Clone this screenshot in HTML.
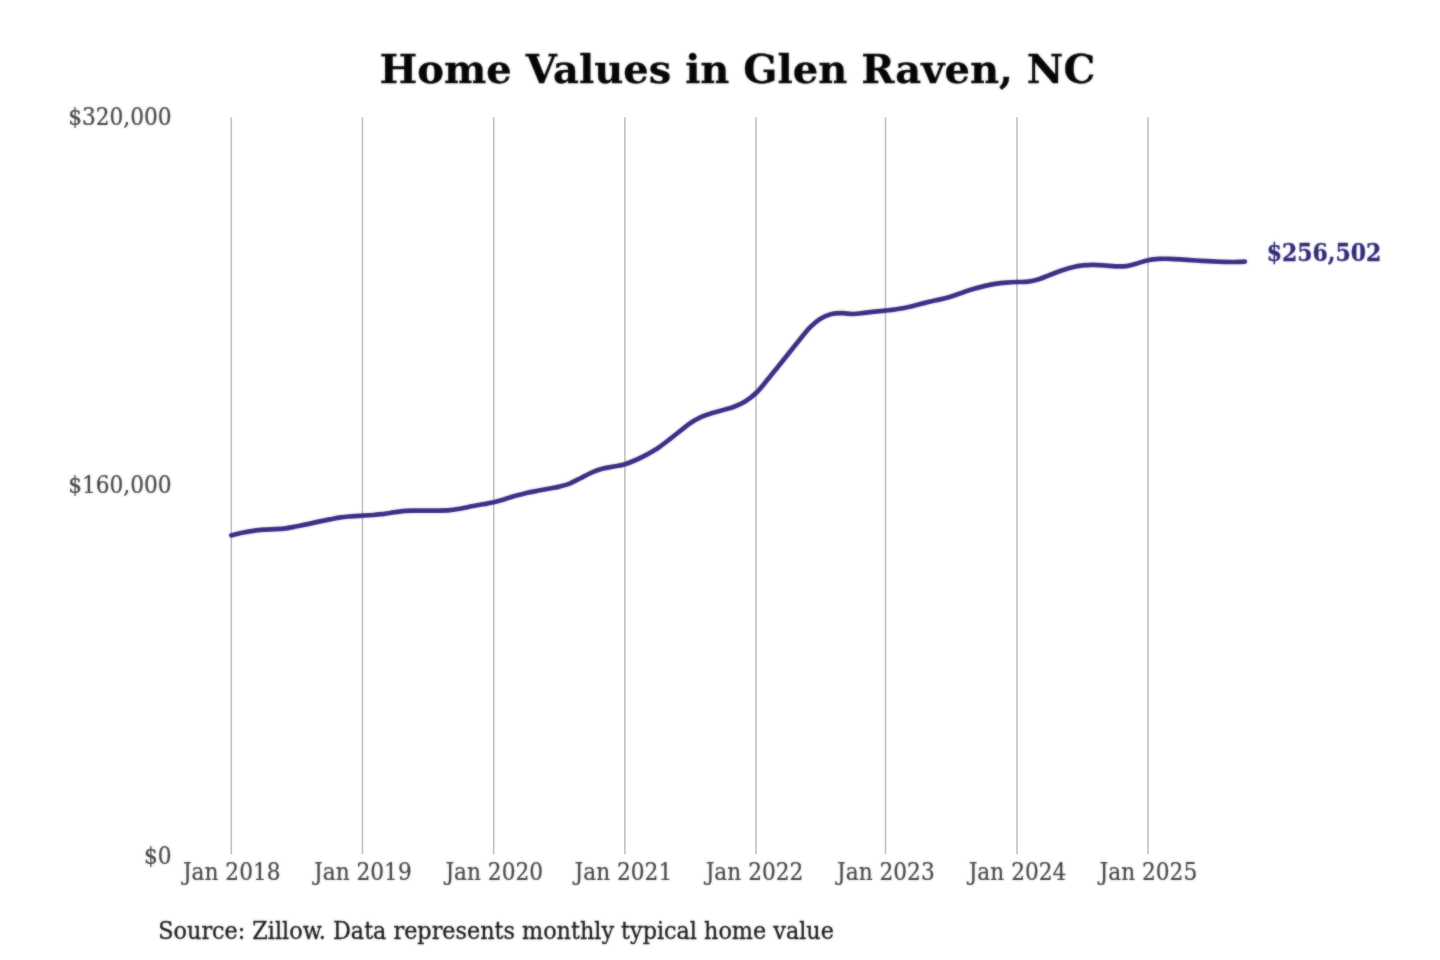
<!DOCTYPE html>
<html lang="en">
<head>
<meta charset="utf-8">
<title>Home Values in Glen Raven, NC</title>
<style>
html,body{margin:0;padding:0;background:#fff;}
body{width:1440px;height:960px;overflow:hidden;}
svg{display:block;}
text{font-family:"DejaVu Serif","Liberation Serif",serif;}
.title{font-weight:bold;font-size:40px;fill:#050505;stroke:#050505;stroke-width:0.3;}
.ax{font-family:"DejaVu Serif","Liberation Serif",serif;font-stretch:condensed;font-size:24.1px;fill:#424242;stroke:#424242;stroke-width:0.2;}
.src{font-stretch:condensed;font-size:24.8px;fill:#181818;stroke:#181818;stroke-width:0.3;}
.val{font-family:"DejaVu Serif","Liberation Serif",serif;font-stretch:condensed;font-size:24.4px;font-weight:bold;fill:#302a76;stroke:#302a76;stroke-width:0.3;}
.grid line{stroke:#c2c2c2;stroke-width:1.6;}
.series{fill:none;stroke:#372e84;stroke-width:4.7;stroke-linecap:round;stroke-linejoin:round;}
</style>
</head>
<body>
<svg width="1440" height="960" viewBox="0 0 1440 960">
<rect width="1440" height="960" fill="#fff"/>
<g class="grid">
<line x1="231.30" y1="117.2" x2="231.30" y2="854.2"/>
<line x1="362.44" y1="117.2" x2="362.44" y2="854.2"/>
<line x1="493.70" y1="117.2" x2="493.70" y2="854.2"/>
<line x1="624.90" y1="117.2" x2="624.90" y2="854.2"/>
<line x1="756.00" y1="117.2" x2="756.00" y2="854.2"/>
<line x1="885.50" y1="117.2" x2="885.50" y2="854.2"/>
<line x1="1017.00" y1="117.2" x2="1017.00" y2="854.2"/>
<line x1="1148.00" y1="117.2" x2="1148.00" y2="854.2"/>
</g>
<defs><filter id="soft" x="-2%" y="-2%" width="104%" height="104%" color-interpolation-filters="sRGB"><feGaussianBlur in="SourceGraphic" stdDeviation="0.8" result="b"/><feComposite in="SourceGraphic" in2="b" operator="arithmetic" k1="0" k2="0.5" k3="0.5" k4="0"/></filter></defs>
<g filter="url(#soft)">
<text class="title" x="737.4" y="82.9" text-anchor="middle">Home Values in Glen Raven, NC</text>
<g class="ax" text-anchor="end">
<text x="171.6" y="124.8">$320,000</text>
<text x="171.6" y="492.9">$160,000</text>
<text x="171.6" y="864.0">$0</text>
</g>
<g class="ax" text-anchor="middle">
<text x="231.7" y="879.8">Jan 2018</text>
<text x="362.9" y="879.8">Jan 2019</text>
<text x="494.2" y="879.8">Jan 2020</text>
<text x="623.4" y="879.8">Jan 2021</text>
<text x="754.5" y="879.8">Jan 2022</text>
<text x="885.9" y="879.8">Jan 2023</text>
<text x="1017.5" y="879.8">Jan 2024</text>
<text x="1148.4" y="879.8">Jan 2025</text>
</g>
<path class="series" d="M231.3,535.3C233.1,534.9 238.6,533.5 242.2,532.8C245.9,532.0 249.5,531.3 253.2,530.8C256.8,530.3 260.4,530.0 264.1,529.7C267.7,529.4 271.4,529.4 275.0,529.2C278.7,529.0 282.3,528.8 285.9,528.3C289.6,527.8 293.2,527.0 296.9,526.3C300.5,525.6 304.2,524.9 307.8,524.1C311.4,523.3 315.1,522.4 318.7,521.6C322.4,520.8 326.0,520.1 329.7,519.4C333.3,518.7 336.9,517.8 340.6,517.3C344.2,516.8 347.9,516.6 351.5,516.3C355.2,516.0 358.8,515.9 362.4,515.7C366.1,515.5 369.7,515.3 373.4,515.0C377.0,514.7 380.7,514.2 384.3,513.8C388.0,513.3 391.6,512.6 395.3,512.1C398.9,511.6 402.5,511.0 406.2,510.8C409.8,510.6 413.5,510.7 417.1,510.7C420.8,510.7 424.4,510.7 428.1,510.7C431.7,510.7 435.4,510.7 439.0,510.6C442.7,510.6 446.3,510.6 449.9,510.2C453.6,509.8 457.2,509.1 460.9,508.5C464.5,507.9 468.2,507.0 471.8,506.3C475.5,505.6 479.1,505.0 482.8,504.3C486.4,503.6 490.1,503.2 493.7,502.3C497.3,501.4 501.0,500.3 504.6,499.2C508.3,498.1 511.9,496.8 515.6,495.8C519.2,494.8 522.9,493.8 526.5,493.0C530.1,492.2 533.8,491.5 537.4,490.8C541.1,490.1 544.7,489.4 548.4,488.7C552.0,488.0 555.7,487.5 559.3,486.6C562.9,485.7 566.6,484.8 570.2,483.3C573.9,481.8 577.5,479.6 581.2,477.8C584.8,475.9 588.5,473.8 592.1,472.3C595.7,470.8 599.4,469.6 603.0,468.6C606.7,467.6 610.3,467.2 614.0,466.5C617.6,465.8 621.3,465.3 624.9,464.2C628.5,463.1 632.2,461.6 635.8,460.0C639.5,458.4 643.1,456.6 646.8,454.6C650.4,452.6 654.0,450.6 657.7,448.2C661.3,445.8 665.0,442.9 668.6,440.1C672.2,437.3 675.9,434.4 679.5,431.5C683.2,428.6 686.8,425.4 690.5,423.0C694.1,420.6 697.7,418.6 701.4,416.9C705.0,415.2 708.7,414.0 712.3,412.9C715.9,411.8 719.6,411.0 723.2,410.0C726.9,409.0 730.5,408.2 734.1,406.8C737.8,405.4 741.4,403.9 745.1,401.6C748.7,399.3 752.4,396.5 756.0,393.0C759.6,389.5 763.2,384.9 766.8,380.6C770.4,376.3 774.0,371.7 777.6,367.2C781.2,362.7 784.8,358.3 788.4,353.8C792.0,349.3 795.6,344.7 799.2,340.3C802.8,335.9 806.4,331.0 810.0,327.4C813.6,323.8 817.2,320.8 820.8,318.6C824.3,316.4 827.9,314.9 831.5,314.0C835.1,313.1 838.7,313.2 842.3,313.2C845.9,313.2 849.5,314.1 853.1,314.0C856.7,313.9 860.3,313.3 863.9,312.9C867.5,312.5 871.1,312.1 874.7,311.7C878.3,311.3 881.9,311.0 885.5,310.6C889.1,310.2 892.8,309.8 896.5,309.2C900.1,308.6 903.8,308.1 907.4,307.3C911.1,306.5 914.7,305.4 918.4,304.5C922.0,303.6 925.7,302.6 929.3,301.7C933.0,300.8 936.6,300.3 940.3,299.4C943.9,298.5 947.6,297.5 951.2,296.4C954.9,295.3 958.6,293.9 962.2,292.7C965.9,291.4 969.5,290.0 973.2,288.9C976.8,287.8 980.5,286.9 984.1,286.1C987.8,285.3 991.4,284.5 995.1,283.9C998.7,283.3 1002.4,282.9 1006.0,282.6C1009.7,282.3 1013.4,282.1 1017.0,282.0C1020.6,281.9 1024.3,282.2 1027.9,281.7C1031.6,281.2 1035.2,280.3 1038.8,279.2C1042.5,278.1 1046.1,276.4 1049.8,275.0C1053.4,273.6 1057.0,272.1 1060.7,270.8C1064.3,269.6 1067.9,268.4 1071.6,267.5C1075.2,266.6 1078.9,265.8 1082.5,265.4C1086.1,264.9 1089.8,264.8 1093.4,264.8C1097.1,264.8 1100.7,265.1 1104.3,265.4C1108.0,265.6 1111.6,266.2 1115.2,266.3C1118.9,266.4 1122.5,266.6 1126.2,266.1C1129.8,265.6 1133.4,264.4 1137.1,263.4C1140.7,262.4 1144.4,260.9 1148.0,260.2C1151.6,259.4 1155.2,259.1 1158.8,258.9C1162.4,258.7 1165.9,258.7 1169.5,258.8C1173.1,258.9 1176.7,259.1 1180.3,259.3C1183.9,259.5 1187.5,259.9 1191.1,260.2C1194.7,260.4 1198.2,260.6 1201.8,260.8C1205.4,261.0 1209.0,261.1 1212.6,261.3C1216.2,261.5 1219.8,261.7 1223.4,261.8C1227.0,261.9 1230.5,262.0 1234.1,262.0C1237.7,262.0 1243.1,261.8 1244.9,261.7"/>
<text class="val" x="1266.8" y="260.8">$256,502</text>
<text class="src" x="158.3" y="938.6">Source: Zillow. Data represents monthly typical home value</text>
</g>
</svg>
</body>
</html>
